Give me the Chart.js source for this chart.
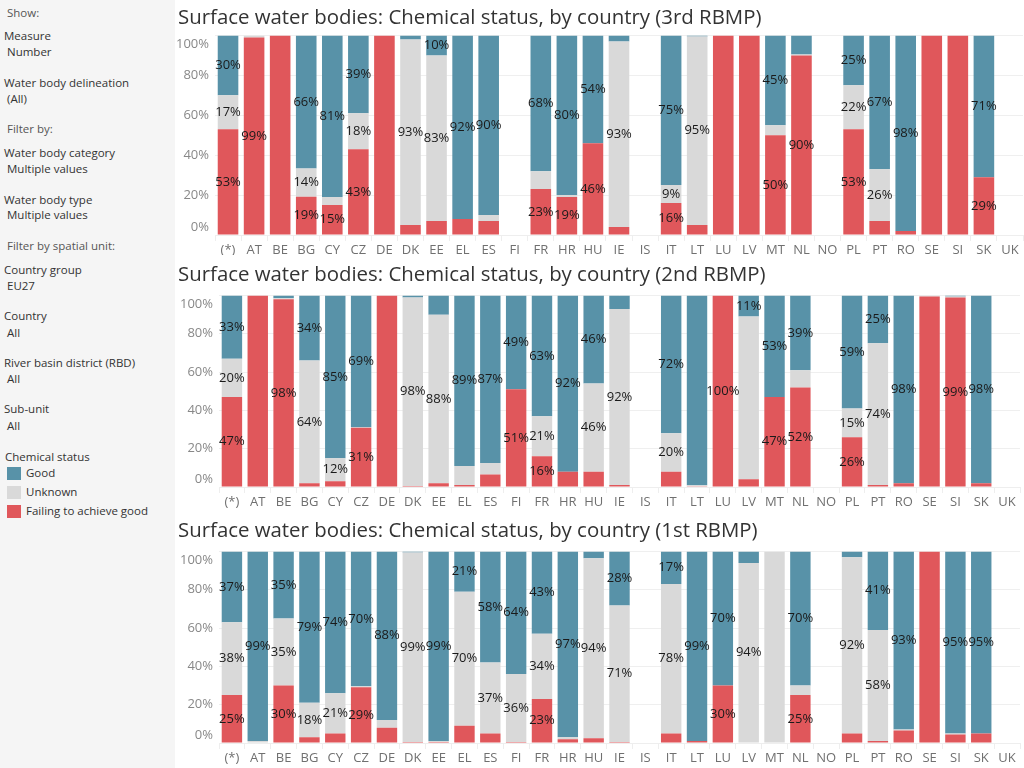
<!DOCTYPE html>
<html>
<head>
<meta charset="utf-8">
<script src="https://cdn.jsdelivr.net/npm/chart.js@4/dist/chart.umd.min.js"></script>
<style>
  body { margin:0; width:1024px; height:768px; overflow:hidden; background:#fff; font-family:"Open Sans", sans-serif; }
  #side { position:absolute; left:0; top:0; width:175px; height:768px; background:#f5f5f5; color:#333; font-size:11.5px; }
  #side div { position:absolute; white-space:nowrap; line-height:14px; }
  .h { left:7px; color:#555; }
  .f { left:4px; }
  .v { left:7px; }
  .sw { position:absolute; left:7px; width:14px; height:13px; }
  .wrap { position:absolute; left:175px; width:849px; }
</style>
</head>
<body>
<div id="side">
  <div class="h" style="top:6px">Show:</div>
  <div class="f" style="top:29px">Measure</div>
  <div class="v" style="top:45px">Number</div>
  <div class="f" style="top:76px">Water body delineation</div>
  <div class="v" style="top:92px">(All)</div>
  <div class="h" style="top:122px">Filter by:</div>
  <div class="f" style="top:146px">Water body category</div>
  <div class="v" style="top:162px">Multiple values</div>
  <div class="f" style="top:193px">Water body type</div>
  <div class="v" style="top:208px">Multiple values</div>
  <div class="h" style="top:239px">Filter by spatial unit:</div>
  <div class="f" style="top:263px">Country group</div>
  <div class="v" style="top:279px">EU27</div>
  <div class="f" style="top:309px">Country</div>
  <div class="v" style="top:326px">All</div>
  <div class="f" style="top:356px">River basin district (RBD)</div>
  <div class="v" style="top:372px">All</div>
  <div class="f" style="top:402px">Sub-unit</div>
  <div class="v" style="top:419px">All</div>
  <div class="v" style="top:450px;left:5px">Chemical status</div>
  <span class="sw" style="top:467px;background:#5892a8"></span><div style="top:466px;left:26px">Good</div>
  <span class="sw" style="top:486px;background:#d9d9d9"></span><div style="top:485px;left:26px">Unknown</div>
  <span class="sw" style="top:505px;background:#e0575b"></span><div style="top:504px;left:26px">Failing to achieve good</div>
</div>
<div class="wrap" style="top:0;height:255px"><canvas id="c3"></canvas></div>
<div class="wrap" style="top:255px;height:255px"><canvas id="c2"></canvas></div>
<div class="wrap" style="top:510px;height:258px"><canvas id="c1"></canvas></div>
<script>
const countries = ['(*)','AT','BE','BG','CY','CZ','DE','DK','EE','EL','ES','FI','FR','HR','HU','IE','IS','IT','LT','LU','LV','MT','NL','NO','PL','PT','RO','SE','SI','SK','UK'];
const yTicks = [0,20,40,60,80,100];

// 3rd RBMP (% of water bodies)
const failing3 = [53,99,100,19,15,43,100,5,7,8,7,0,23,19,46,4,0,16,5,100,100,50,90,0,53,7,2,100,100,29,0];
const unknown3 = [17,1,0,14,4,18,0,93,83,0,3,0,9,1,0,93,0,9,95,0,0,5,0.5,0,22,26,0,0,0,0,0];
const good3    = [30,0,0,66,81,39,0,2,10,92,90,0,68,80,54,3,0,75,0.5,0,0,45,9.5,0,25,67,98,0,0,71,0];
// 2nd RBMP
const failing2 = [47,100,98,2,3,31,100,0.5,2,1,6.5,51,16,8,8,1,0,8,0.4,100,4,47,52,0,26,1,2,99.5,99,2,0];
const unknown2 = [20,0,0.5,64,12,0.3,0,98,88,10,6,0,21,0,46,92,0,20,0.5,0,85,0,9,0,15,74,0,0.5,0.5,0,0];
const good2    = [33,0,1.5,34,85,69,0,1,10,89,87,49,63,92,46,7,0,72,99,0,11,53,39,0,59,25,98,0,0.5,98,0];
// 1st RBMP
const failing1 = [25,0,30,3,5,29,8,0.5,0.5,9,5,0.5,23,2,2.5,0.5,0,5,1,30,0,0,25,0,5,1,6.5,100,4.5,5,0];
const unknown1 = [38,1,35,18,21,0.5,4,99,0.5,70,37,35.5,34,1,94,71,0,78,0,0,94,100,5,0,92,58,0.5,0,0.5,0,0];
const good1    = [37,99,35,79,74,70,88,0.5,99,21,58,64,43,97,3.5,28,0,17,99,70,6,0,70,0,3,41,93,0,95,95,0];

// which segments carry a value label
const goodLbl3    = ['(*)','BG','CY','CZ','EE','EL','ES','FR','HR','HU','IT','MT','PL','PT','RO','SK'];
const unknownLbl3 = ['(*)','BG','CZ','DK','EE','IE','IT','LT','PL','PT'];
const failingLbl3 = ['(*)','AT','BG','CY','CZ','FR','HR','HU','IT','MT','NL','PL','SK'];
const goodLbl2    = ['(*)','BG','CY','CZ','EL','ES','FI','FR','HR','HU','IT','LV','MT','NL','PL','PT','RO','SK'];
const unknownLbl2 = ['(*)','BG','CY','DK','EE','FR','HU','IE','IT','PL','PT'];
const failingLbl2 = ['(*)','BE','CZ','FI','FR','LU','MT','NL','PL','SI'];
const goodLbl1    = ['(*)','AT','BE','BG','CY','CZ','DE','EE','EL','ES','FI','FR','HR','IE','IT','LT','LU','NL','PT','RO','SI','SK'];
const unknownLbl1 = ['(*)','BE','BG','CY','DK','EL','ES','FI','FR','HU','IE','IT','LV','PL','PT'];
const failingLbl1 = ['(*)','BE','CZ','FR','LU','NL'];

const colGood = '#5892a8', colUnknown = '#d9d9d9', colFailing = '#e0575b';
const FONT = '"Open Sans", sans-serif';

// value labels in the middle of each segment
const segLabels = {
  id: 'segLabels',
  afterDatasetsDraw(chart) {
    const ctx = chart.ctx;
    ctx.save();
    ctx.font = '13px ' + FONT;
    ctx.fillStyle = '#1a1a1a';
    ctx.textAlign = 'center';
    ctx.textBaseline = 'middle';
    chart.data.datasets.forEach((ds, di) => {
      chart.getDatasetMeta(di).data.forEach((bar, i) => {
        if (!ds.lbl.includes(countries[i])) return;
        ctx.fillText(Math.round(ds.raw[i]) + '%', bar.x, (bar.y + bar.base) / 2);
      });
    });
    ctx.restore();
  }
};

// y tick labels kept inside the plot at the ends, like the original
const yLabels = {
  id: 'yLabels',
  afterDraw(chart) {
    const ctx = chart.ctx, y = chart.scales.y, area = chart.chartArea;
    ctx.save();
    ctx.font = '13px ' + FONT;
    ctx.fillStyle = '#888';
    ctx.textAlign = 'right';
    ctx.textBaseline = 'middle';
    yTicks.forEach(v => {
      let py = y.getPixelForValue(v);
      py = Math.min(Math.max(py, area.top + 9), area.bottom - 8);
      ctx.fillText(v + '%', area.left - 6, py);
    });
    ctx.restore();
  }
};

function pct(series, i, all) {
  const tot = all.reduce((s, a) => s + a[i], 0);
  return tot ? series[i] / tot * 100 : 0;
}

function makeChart(id, title, fail, unk, good, lF, lU, lG, pad) {
  const all = [fail, unk, good];
  const norm = s => s.map((v, i) => pct(s, i, all));
  new Chart(document.getElementById(id), {
    type: 'bar',
    data: {
      labels: countries,
      datasets: [
        {label:'Failing to achieve good', data:norm(fail), raw:fail, lbl:lF, backgroundColor:colFailing},
        {label:'Unknown', data:norm(unk), raw:unk, lbl:lU, backgroundColor:colUnknown},
        {label:'Good', data:norm(good), raw:good, lbl:lG, backgroundColor:colGood}
      ]
    },
    options: {
      responsive: true,
      maintainAspectRatio: false,
      animation: false,
      layout: {padding: {right: pad.right, left: 3, bottom: 0}},
      datasets: {bar: {categoryPercentage: 1, barPercentage: 0.79}},
      plugins: {
        legend: {display: false},
        tooltip: {enabled: false},
        title: {display: true, text: title, align: 'start', color: '#333',
          font: {family: FONT, size: 20.4, weight: 'normal'}, padding: {top: pad.top, bottom: pad.bottom}}
      },
      scales: {
        x: {
          stacked: true,
          grid: {offset: true, drawOnChartArea: false, color: '#eee', tickLength: 6},
          border: {color: '#eee'},
          ticks: {color: '#707070', font: {family: FONT, size: 13}, padding: 1, maxRotation: 0, autoSkip: false},
          afterFit: s => { s.height = pad.xh; }
        },
        y: {
          stacked: true, min: 0, max: 100,
          grid: {color: '#efefef', drawTicks: false},
          border: {display: false},
          ticks: {stepSize: 20, display: false},
          afterFit: s => { s.width = pad.yw; }
        }
      }
    },
    plugins: [segLabels, yLabels]
  });
}

makeChart('c3', 'Surface water bodies: Chemical status, by country (3rd RBMP)',
  failing3, unknown3, good3, failingLbl3, unknownLbl3, goodLbl3, {top:6, bottom:5, xh:20, yw:37, right:1});
makeChart('c2', 'Surface water bodies: Chemical status, by country (2nd RBMP)',
  failing2, unknown2, good2, failingLbl2, unknownLbl2, goodLbl2, {top:8, bottom:8, xh:23, yw:41, right:4});
makeChart('c1', 'Surface water bodies: Chemical status, by country (1st RBMP)',
  failing1, unknown1, good1, failingLbl1, unknownLbl1, goodLbl1, {top:9, bottom:8, xh:25, yw:41, right:4});
</script>
</body>
</html>
